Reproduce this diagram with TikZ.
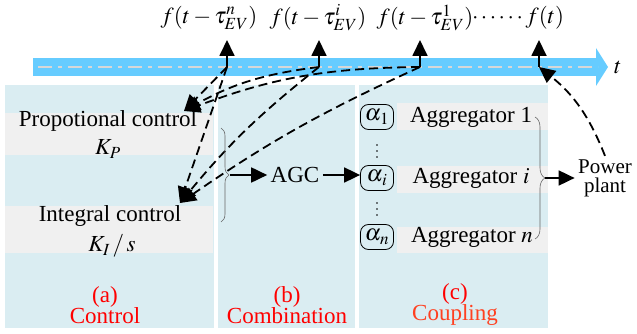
\documentclass[tikz,border=0pt]{standalone}
\usepackage{mathptmx}
\usepackage{fontspec}
\setmainfont{Liberation Serif}
\usepackage{tikz}
\usetikzlibrary{arrows.meta,decorations.pathreplacing}
\definecolor{TimeBarColor}{RGB}{102,204,255}
\definecolor{TimeLineColor}{RGB}{215,215,215}
\definecolor{PanelColor}{RGB}{218,237,242}
\definecolor{StripeColor}{RGB}{240,240,240}
\definecolor{CaptionRed}{RGB}{255,0,0}
\definecolor{CaptionOrange}{RGB}{255,64,32}

\begin{document}
\begin{tikzpicture}[x=1pt,y=1pt,every node/.style={font=\fontsize{23}{23}\selectfont},pnl/.style={fill=PanelColor},stripe/.style={fill=StripeColor},tip/.style={line width=1.8pt,-{Triangle[length=16pt,width=15pt]}},lnk/.style={tip,dash pattern=on 9pt off 5pt},wgt/.style={draw,line width=0.8pt,rounded corners=8pt,minimum width=33pt,minimum height=25pt,inner sep=1pt},brc/.style={decorate,decoration={brace,amplitude=#1},draw=black!60,line width=0.6pt},capt/.style={align=center,text=CaptionRed,font=\fontsize{23}{21}\selectfont}]
\useasboundingbox (0,0) rectangle (637,-334);
\foreach \xa/\xb in %
{5/214,218/355,359/548} {
   \fill[pnl] (\xa,-85) rectangle (\xb,-328);
}
\foreach \xa/\ya/\xb/\yb in %
{5/113/213/155,5/206/213/253,397/103/548/130,397/166/548/193,397/227/548/253} {
   \fill[stripe] (\xa,-\ya) rectangle (\xb,-\yb);
}
\fill[TimeBarColor] (33,-58) rectangle (597,-76);
\fill[TimeBarColor] (596,-48) -- (608,-67) -- (596,-86) -- cycle;
\draw[TimeLineColor,line width=2pt,dash pattern=on 14pt off 6pt on 4pt off 6pt] (38,-67) -- (598,-67);
\node (tl) at (618,-67) {$t$};
\node (ln) at (209,-18) {$f(t-\tau^{n}_{EV})$};
\node (li) at (318,-18) {$f(t-\tau^{i}_{EV})$};
\node (l1) at (425,-18) {$f(t-\tau^{1}_{EV})$};
\node (lt) at (518,-18) {$\cdots\cdots f(t)$};
\foreach \s/\x in %
{n/227,i/319,1/420,t/539} {
   \coordinate (b\s) at (\x,-67);
   \coordinate (u\s) at (\x,-40);
   \draw[tip] (b\s) -- (u\s);
}
\node (pc) at (108,-121) {Propotional control};
\node (kp) at (108,-149) {$K_P$};
\node (ic) at (110,-216) {Integral control};
\node (ki) at (112,-246) {$K_I\,/\,s$};
\coordinate (cP) at (184,-111);
\coordinate (cI) at (180,-203);
\foreach \s/\bp/\bi in %
{n/0/0,i/11/6,1/10/5} {
   \draw[lnk] (b\s) to[bend right=\bp] (cP);
   \draw[lnk] (b\s) to[bend right=\bi] (cI);
}
\draw[brc=8pt] (221,-128) -- (221,-222);
\coordinate (bA) at (230,-175);
\node (agc) at (295,-175) {AGC};
\draw[tip] (bA) -- (agc);
\node[wgt] (a1) at (377,-117) {$\alpha_{\mkern1mu 1}$};
\node[wgt] (ai) at (377,-178) {$\alpha_{\mkern1mu i}$};
\node[wgt] (an) at (377,-237) {$\alpha_{\mkern1mu n}$};
\foreach \y in {145,151,157,203,209,215} {
   \fill (377,-\y) circle (0.9pt);
}
\draw[tip] (agc.east) -- (agc.east -| ai.west);
\node (g1) at (471,-117) {Aggregator 1};
\node (gi) at (471,-178) {Aggregator $i$};
\node (gn) at (472,-237) {Aggregator $n$};
\draw[brc=10pt] (535,-117) -- (535,-239);
\coordinate (bB) at (545,-178);
\node[align=center,font=\fontsize{21}{19}\selectfont] (pp) at (605,-178) {Power\\plant};
\draw[tip] (bB) -- (pp.west);
\draw[lnk] (pp.north) to[bend right=15] (bt);
\node[capt] (ca) at (105,-305) {(a)\\Control};
\node[capt] (cb) at (287,-305) {(b)\\Combination};
\node[capt] (cc) at (455,-305) {(c)\\\textcolor{CaptionOrange}{Coupling}};
\end{tikzpicture}
\end{document}
